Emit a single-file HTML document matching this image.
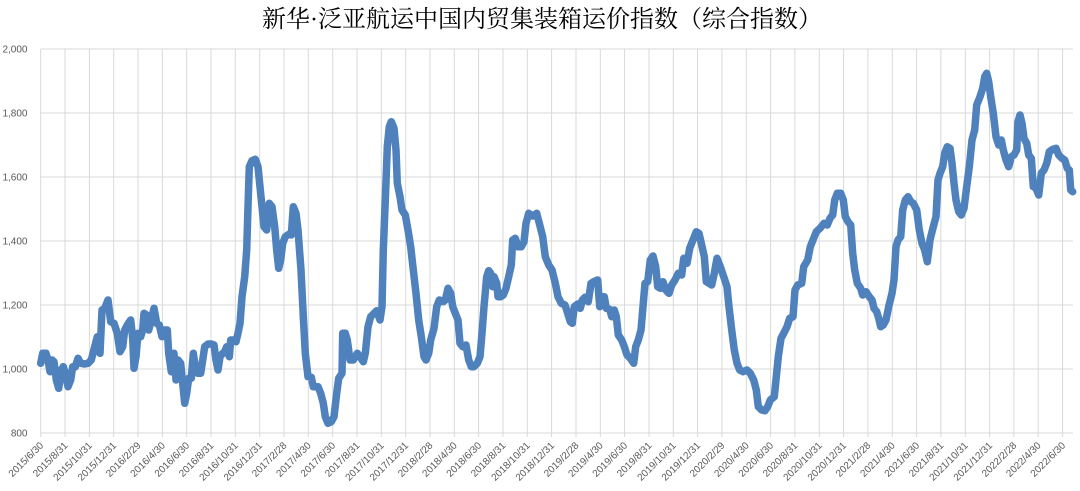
<!DOCTYPE html>
<html>
<head>
<meta charset="utf-8">
<style>
html,body{margin:0;padding:0;background:#fff;}
svg{display:block;}
.t{font-family:"Liberation Serif","Noto Serif CJK SC",serif;font-size:24px;fill:#000;}
.yl{font-family:"Liberation Sans",sans-serif;font-size:10px;fill:#595959;}
.xl{font-family:"Liberation Sans",sans-serif;font-size:10px;fill:#595959;}
</style>
</head>
<body>
<svg width="1080" height="491" viewBox="0 0 1080 491" xmlns="http://www.w3.org/2000/svg">
<rect width="1080" height="491" fill="#fff"/>
<text class="t" x="542" y="27" text-anchor="middle">新华·泛亚航运中国内贸集装箱运价指数（综合指数）</text>

<g stroke="#d9d9d9" stroke-width="1" fill="none">
<line x1="40.7" y1="49" x2="1073" y2="49"/>
<line x1="40.7" y1="113" x2="1073" y2="113"/>
<line x1="40.7" y1="177" x2="1073" y2="177"/>
<line x1="40.7" y1="241" x2="1073" y2="241"/>
<line x1="40.7" y1="305" x2="1073" y2="305"/>
<line x1="40.7" y1="369" x2="1073" y2="369"/>
<line x1="40.7" y1="433" x2="1073" y2="433"/>
<path d="M40.7 49V437M65 49V437M89.4 49V437M113.7 49V437M138 49V437M162.4 49V437M186.7 49V437M211 49V437M235.3 49V437M259.7 49V437M284 49V437M308.3 49V437M332.7 49V437M357 49V437M381.3 49V437M405.7 49V437M430 49V437M454.3 49V437M478.6 49V437M503 49V437M527.3 49V437M551.6 49V437M576 49V437M600.3 49V437M624.6 49V437M649 49V437M673.3 49V437M697.6 49V437M721.9 49V437M746.3 49V437M770.6 49V437M794.9 49V437M819.3 49V437M843.6 49V437M867.9 49V437M892.3 49V437M916.6 49V437M940.9 49V437M965.3 49V437M989.6 49V437M1013.9 49V437M1038.2 49V437M1062.6 49V437"/>
</g>

<g class="yl" text-anchor="end">
<text x="27.5" y="52.5">2,000</text>
<text x="27.5" y="116.5">1,800</text>
<text x="27.5" y="180.5">1,600</text>
<text x="27.5" y="244.5">1,400</text>
<text x="27.5" y="308.5">1,200</text>
<text x="27.5" y="372.5">1,000</text>
<text x="27.5" y="436.5">800</text>
</g>

<polyline fill="none" stroke="#4f81bd" stroke-width="7.5" stroke-linejoin="round" stroke-linecap="round" points="40.7,363.3 42.7,353.3 46,353.3 48,360 50,371.7 52,360 54,361.7 56.3,380 58.7,388.3 61.3,370 63.3,366.7 65.3,373.3 68,386.7 70.7,380 72.7,366.7 75.3,366.7 78,358.3 80.7,363.3 84.7,364 88,363.3 91.3,360 94.7,346.7 97.3,336.7 100,353.3 102,310 104.7,308.3 108,300 110.7,321.7 114,323.3 117.3,333.3 120,351.7 122.7,346.7 124.7,330 127.3,325 130.7,320 132.7,338.3 134,368.3 136,356.7 138,333.3 140.7,336.7 142.7,330 144,313.3 146.7,315 148.7,330 151.3,320 154,308.3 156.7,323.3 159.3,325 162,336.7 164.7,330 167.3,330 168.7,353.3 171.3,371.7 174,353.3 176,380 178,360 180.7,363.3 182.7,383.3 184.7,403.3 186.7,393.3 188.7,378.3 191.3,378.3 193.3,353.3 195.3,366.7 198,373.3 200.7,373.3 202.7,360 204.7,346.7 208,344 211.3,344 214,345 216,360 218,370 220,356.7 222.7,353.3 224.7,351.7 226.7,346.7 229.3,356.7 230.7,340 233.3,340 236,341.7 238,333.3 240,323.3 242,296.7 244.7,276.7 246.7,250 248,206.7 249.3,166.7 252,160.7 255.3,159.3 258,166.7 260,186.7 262,206.7 264,226.7 266.7,230 269.3,203.3 272,206.7 274.7,226.7 276.7,250 278.7,268.3 280.7,260 282.7,243.3 285.3,236.7 289.3,234 291.3,235 293.3,206.7 296,213.3 298,230 301,270 303.3,316.7 305.3,353.3 308,376.7 311.3,377.3 313.3,386.7 318,386.7 320.7,393.3 323.3,403.3 325.3,416.7 328,423.3 331.3,421.7 334,416.7 336.7,393.3 338.7,378.3 342,373.3 342.7,333.3 345.3,333.3 347.3,340 350,360 353.3,360 357.3,353.3 360,356.7 363.3,361.7 365.3,353.3 368,326.7 370.7,316.7 374,313.3 376.7,310.7 380,320 382,306.7 383.3,250 385.3,200 387.3,146.7 389.3,126.7 391.3,121.7 394,128.3 396,150 397.3,183.3 400,196.7 402,210 405.3,215 408,230 410.7,246.7 413.3,270 416,293.3 418.7,320 421.3,336.7 424,356.7 426,360 428.7,353.3 430.7,340 434,328.3 436.7,306.7 439.3,300 443.3,301.7 445.3,300 448,288.3 450.7,293.3 452.7,306.7 455.3,313.3 458,320 460,343.3 462.7,346.7 466,345 468.7,360 471.3,366.7 474,366.7 477.3,363.3 480,356.7 482,333.3 484,306.7 486.7,276.7 488.7,270.7 490.7,273.3 492.7,286.7 494,276.7 496.7,283.3 498,296.7 500.7,296.7 503.3,295 506,288.3 508.7,276.7 511.3,265 512.7,240 515.3,238.3 518,246.7 521.3,246.7 524,241.7 526,223.3 528.7,213.3 532.7,216 536.7,213.3 539.3,223.3 542.7,236.7 545.3,256.7 548.7,265 552,270 555.3,283.3 558,296.7 561.3,303.3 565,305 567.7,313.3 570.3,321.7 572.3,323.3 574.3,306.7 577.7,304 580.3,308.3 582.3,300 585,297.3 588.3,301.7 591,283.3 593.7,281.7 597.7,280 599.7,306.7 601.7,296.7 604.3,296.7 606.3,308.3 609.7,309.3 611.7,316.7 614.3,310 616.3,316.7 618.3,335 621.7,340 624.3,346.7 627,355 630.3,358.3 633.7,363.3 635.7,346.7 638.3,340 641,330 643,306.7 645,283.3 647.7,281.7 650.3,260 653,256 655.7,266.7 657.7,286.7 660.3,288.3 663,281.7 665.7,290 669,293.3 671.7,285 675,280 678.3,273.3 681.7,275 683.7,258.3 687,263.3 689.7,248.3 693,240 696.3,231.7 699,233.3 701.7,245 704.3,256.7 706.3,281.7 709,283.3 711.7,285 714.3,273.3 717,258.3 720.3,266.7 723.7,276.7 727,286.7 729,306.7 731.7,330 734.3,350 737,363.3 739.7,370 743,371.7 747,370 750.3,373.3 753.7,380 756.3,390 758.3,406.7 761.7,410 765,410.7 767.7,406.7 770.3,400 774.3,396.7 776.3,376.7 778.3,356.7 781,338.3 783.7,333.3 787,326.7 789.7,318.3 793,316.7 795,290 797.7,285 801.7,283.3 803.7,266.7 807.7,260 810.3,246.7 813,240 816.3,231.7 820,228.3 824,223.3 827.3,225 830,218.3 832.7,215 834.7,200 837.3,193.3 840.7,193.3 843.3,200 845.3,216.7 848,221.7 850.7,225 852.7,253.3 854.7,270 857.3,283.3 860.7,288.3 862.7,295 866,291.7 869.3,296.7 872,300 874,308.3 876.7,311.7 878.7,318.3 880.7,326.7 883.3,325 886,320 888.7,306.7 892,293.3 894,280 896,246.7 898,240 900.7,236.7 902.7,210 905.3,200 908,196.7 910.7,201.7 913.3,203.3 916.7,210 919.3,230 922,243.3 924.7,250 927.3,261.7 930,240 933.3,226.7 936,216.7 938,180 940,173.3 942.7,166.7 944.7,153.3 947.3,146.7 950,148.3 952,163.3 954,183.3 956,200 958.7,211.7 961.3,215 964,208.3 966.7,186.7 969.3,166.7 972,140 974.7,130 976.7,105 980,96.7 982.7,88.3 984.7,76.7 986.7,73.3 988.7,81.7 990.7,96.7 993.3,113.3 996,136.7 998.7,145 1001.3,140 1003.3,150 1006,160 1008.7,166.7 1011.3,156.7 1014,155 1016.7,150 1018,121.7 1020,115 1022,123.3 1024,138.3 1026.7,143.3 1028.7,155 1031.3,158.3 1033.3,186.7 1036,188.3 1038.7,195 1041.3,173.3 1044,170 1046.7,163.3 1049.3,151.7 1052.7,149.3 1056,148.3 1058.7,155 1062,158.3 1064.7,160 1067.3,168.3 1069.3,170 1070.7,190 1072.7,191.7"/>

<g class="xl" text-anchor="end">
<text transform="translate(44,446) rotate(-45)">2015/6/30</text>
<text transform="translate(68.3,446) rotate(-45)">2015/8/31</text>
<text transform="translate(92.7,446) rotate(-45)">2015/10/31</text>
<text transform="translate(117,446) rotate(-45)">2015/12/31</text>
<text transform="translate(141.3,446) rotate(-45)">2016/2/29</text>
<text transform="translate(165.7,446) rotate(-45)">2016/4/30</text>
<text transform="translate(190,446) rotate(-45)">2016/6/30</text>
<text transform="translate(214.3,446) rotate(-45)">2016/8/31</text>
<text transform="translate(238.6,446) rotate(-45)">2016/10/31</text>
<text transform="translate(263,446) rotate(-45)">2016/12/31</text>
<text transform="translate(287.3,446) rotate(-45)">2017/2/28</text>
<text transform="translate(311.6,446) rotate(-45)">2017/4/30</text>
<text transform="translate(336,446) rotate(-45)">2017/6/30</text>
<text transform="translate(360.3,446) rotate(-45)">2017/8/31</text>
<text transform="translate(384.6,446) rotate(-45)">2017/10/31</text>
<text transform="translate(409,446) rotate(-45)">2017/12/31</text>
<text transform="translate(433.3,446) rotate(-45)">2018/2/28</text>
<text transform="translate(457.6,446) rotate(-45)">2018/4/30</text>
<text transform="translate(481.9,446) rotate(-45)">2018/6/30</text>
<text transform="translate(506.3,446) rotate(-45)">2018/8/31</text>
<text transform="translate(530.6,446) rotate(-45)">2018/10/31</text>
<text transform="translate(554.9,446) rotate(-45)">2018/12/31</text>
<text transform="translate(579.3,446) rotate(-45)">2019/2/28</text>
<text transform="translate(603.6,446) rotate(-45)">2019/4/30</text>
<text transform="translate(627.9,446) rotate(-45)">2019/6/30</text>
<text transform="translate(652.3,446) rotate(-45)">2019/8/31</text>
<text transform="translate(676.6,446) rotate(-45)">2019/10/31</text>
<text transform="translate(700.9,446) rotate(-45)">2019/12/31</text>
<text transform="translate(725.2,446) rotate(-45)">2020/2/29</text>
<text transform="translate(749.6,446) rotate(-45)">2020/4/30</text>
<text transform="translate(773.9,446) rotate(-45)">2020/6/30</text>
<text transform="translate(798.2,446) rotate(-45)">2020/8/31</text>
<text transform="translate(822.6,446) rotate(-45)">2020/10/31</text>
<text transform="translate(846.9,446) rotate(-45)">2020/12/31</text>
<text transform="translate(871.2,446) rotate(-45)">2021/2/28</text>
<text transform="translate(895.6,446) rotate(-45)">2021/4/30</text>
<text transform="translate(919.9,446) rotate(-45)">2021/6/30</text>
<text transform="translate(944.2,446) rotate(-45)">2021/8/31</text>
<text transform="translate(968.6,446) rotate(-45)">2021/10/31</text>
<text transform="translate(992.9,446) rotate(-45)">2021/12/31</text>
<text transform="translate(1017.2,446) rotate(-45)">2022/2/28</text>
<text transform="translate(1041.5,446) rotate(-45)">2022/4/30</text>
<text transform="translate(1065.9,446) rotate(-45)">2022/6/30</text>
</g>
</svg>
</body>
</html>
